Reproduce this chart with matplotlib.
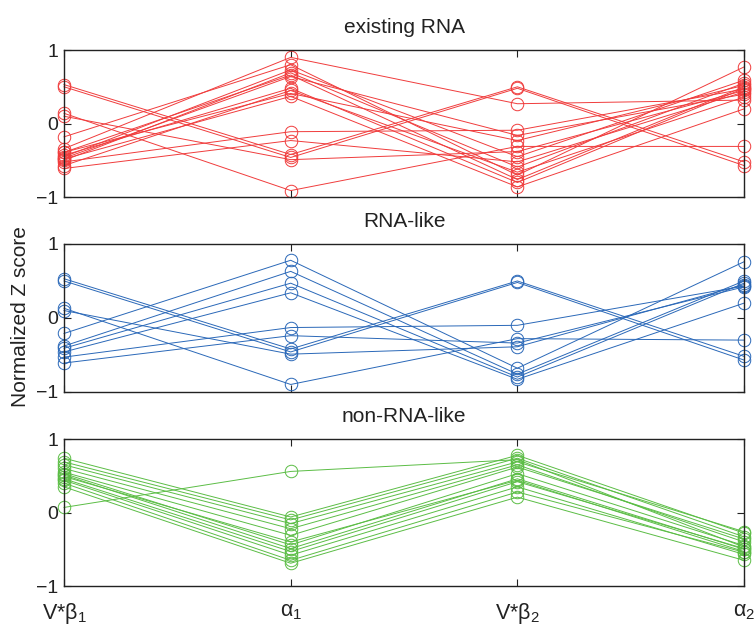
import numpy as np
import matplotlib
matplotlib.use('Agg')
import matplotlib.pyplot as plt

# ---------------------- data ----------------------
features = [r'V*$\beta_1$', r'$\alpha_1$', r'V*$\beta_2$', r'$\alpha_2$']

# each row: one sample -> (V*b1, a1, V*b2, a2)
existing_rna = [
    [0.53, -0.42, 0.50, -0.52],
    [0.50, -0.46, 0.48, -0.57],
    [0.14, -0.91, -0.31, -0.31],
    [0.10, -0.49, -0.38, 0.45],
    [-0.18, 0.80, -0.70, 0.77],
    [-0.39, 0.66, -0.76, 0.50],
    [-0.43, 0.48, -0.80, 0.48],
    [-0.48, 0.37, -0.86, 0.20],
    [-0.52, -0.11, -0.09, 0.47],
    [-0.61, -0.23, -0.52, 0.43],
    [-0.34, 0.90, 0.27, 0.32],
    [-0.45, 0.73, -0.45, 0.59],
    [-0.50, 0.69, -0.59, 0.55],
    [-0.57, 0.45, -0.66, 0.36],
    [-0.39, 0.41, -0.23, 0.52],
    [-0.47, 0.64, -0.16, 0.40],
]

rna_like = [
    [0.53, -0.42, 0.50, -0.52],
    [0.50, -0.46, 0.48, -0.57],
    [0.13, -0.90, -0.28, -0.30],
    [0.10, -0.49, -0.39, 0.45],
    [-0.21, 0.78, -0.68, 0.76],
    [-0.38, 0.63, -0.76, 0.50],
    [-0.41, 0.47, -0.80, 0.47],
    [-0.46, 0.34, -0.83, 0.20],
    [-0.53, -0.13, -0.10, 0.43],
    [-0.61, -0.24, -0.34, 0.42],
]

non_rna_like = [
    [0.07, 0.56, 0.72, -0.47],
    [0.74, -0.06, 0.78, -0.28],
    [0.69, -0.10, 0.74, -0.33],
    [0.65, -0.15, 0.69, -0.26],
    [0.60, -0.22, 0.65, -0.40],
    [0.55, -0.31, 0.62, -0.36],
    [0.53, -0.44, 0.53, -0.45],
    [0.51, -0.49, 0.46, -0.50],
    [0.49, -0.40, 0.44, -0.53],
    [0.46, -0.53, 0.42, -0.49],
    [0.44, -0.58, 0.35, -0.57],
    [0.40, -0.65, 0.28, -0.54],
    [0.35, -0.69, 0.21, -0.65],
]

panels = [
    ('existing RNA', existing_rna, '#f03c3c'),
    ('RNA-like', rna_like, '#2a68b8'),
    ('non-RNA-like', non_rna_like, '#5bbd45'),
]

# ---------------------- style ----------------------
plt.rcParams['font.family'] = ['Liberation Sans', 'DejaVu Sans']
plt.rcParams['mathtext.fontset'] = 'custom'
plt.rcParams['mathtext.rm'] = 'Liberation Sans'
plt.rcParams['mathtext.it'] = 'Liberation Sans'
plt.rcParams['text.color'] = '#222222'
plt.rcParams['xtick.labelcolor'] = '#222222'
plt.rcParams['ytick.labelcolor'] = '#222222'

fig = plt.figure(figsize=(7.56, 6.30), dpi=100)

# axes boxes in figure fractions (left, bottom, width, height)
boxes = [
    (0.0847, 0.687, 0.8995, 0.2336),
    (0.0847, 0.378, 0.8995, 0.2347),
    (0.0847, 0.0698, 0.8995, 0.2332),
]

x = np.arange(1, len(features) + 1)
axes = []
for (title, rows, color), box in zip(panels, boxes):
    ax = fig.add_axes(box)
    for row in rows:
        ax.plot(x, row, color=color, lw=0.7, marker='o', markersize=9,
                markerfacecolor='none', markeredgewidth=0.7, clip_on=False)
    ax.set_xlim(1, 4)
    ax.set_ylim(-1, 1)
    ax.set_yticks([-1, 0, 1])
    ax.set_yticklabels(['\u22121', '0', '1'])
    ax.set_xticks(x)
    ax.tick_params(direction='in', top=True, right=True, length=5,
                   width=0.8, color='#222222')
    ax.tick_params(axis='y', labelsize=14, pad=4)
    ax.tick_params(axis='x', labelsize=15.5, pad=11)
    ax.set_title(title, fontsize=15, pad=12)
    for s in ax.spines.values():
        s.set_linewidth(1.0)
        s.set_color('#222222')
    axes.append(ax)

for ax in axes[:-1]:
    ax.set_xticklabels([])
axes[-1].set_xticklabels(features)

fig.text(0.027, 0.497, 'Normalized Z score', rotation=90, fontsize=15,
         ha='center', va='center')

plt.savefig('out.png', dpi=100)
